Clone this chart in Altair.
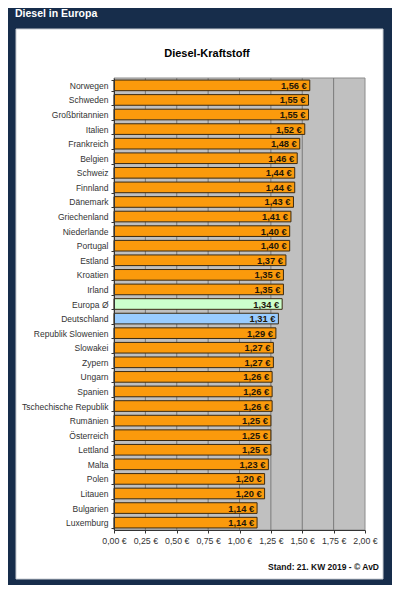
import altair as alt
import pandas as pd

countries = ["Norwegen", "Schweden", "Großbritannien", "Italien", "Frankreich", "Belgien",
             "Schweiz", "Finnland", "Dänemark", "Griechenland", "Niederlande", "Portugal",
             "Estland", "Kroatien", "Irland", "Europa Ø", "Deutschland", "Republik Slowenien",
             "Slowakei", "Zypern", "Ungarn", "Spanien", "Tschechische Republik", "Rumänien",
             "Österreich", "Lettland", "Malta", "Polen", "Litauen", "Bulgarien", "Luxemburg"]
prices = [1.56, 1.55, 1.55, 1.52, 1.48, 1.46, 1.44, 1.44, 1.43, 1.41, 1.40, 1.40,
          1.37, 1.35, 1.35, 1.34, 1.31, 1.29, 1.27, 1.27, 1.26, 1.26, 1.26, 1.25,
          1.25, 1.25, 1.23, 1.20, 1.20, 1.14, 1.14]
kinds = ["Land"] * 15 + ["Europa", "Deutschland"] + ["Land"] * 14
tick_values = [0, 0.25, 0.5, 0.75, 1.0, 1.25, 1.5, 1.75, 2.0]
grid_values = [0.25, 0.5, 0.75, 1.0, 1.25, 1.5, 1.75]

header = "Diesel in Europa"
title = "Diesel-Kraftstoff"
footer = "Stand: 21. KW 2019 - © AvD"

df = pd.DataFrame({"land": countries, "preis": prices, "typ": kinds})
df["label"] = [f"{p:.2f}".replace(".", ",") + " €" for p in prices]
grid_df = pd.DataFrame({"preis": grid_values})

W, H = 251, 452
PL, PT = 106, 70
FONT = "Liberation Sans"

xenc = alt.X("preis:Q",
             scale=alt.Scale(domain=[0, 2], nice=False, zero=True),
             axis=alt.Axis(title=None, values=tick_values, grid=False,
                           labelExpr="replace(format(datum.value, '.2f'), '.', ',') + ' €'",
                           labelFont=FONT, labelFontSize=8.8, labelColor="#333333",
                           labelPadding=3, tickSize=3, tickColor="#333333",
                           labelOverlap=False, labelFlush=False,
                           domainColor="#333333", zindex=2))
yenc = alt.Y("land:N", sort=countries,
             scale=alt.Scale(paddingInner=0.27, paddingOuter=0.14),
             axis=alt.Axis(title=None, grid=False, tickBand="extent", tickSize=3,
                           tickColor="#333333", domainColor="#333333",
                           labelFont=FONT, labelFontSize=8.5, labelColor="#333333",
                           labelPadding=3, labelOverlap=False, zindex=2))

one = pd.DataFrame({"t": [0]})

panel = alt.Chart(one).mark_rect(fill="#ffffff", stroke="#c8ccd2", strokeWidth=1).encode(
    x=alt.value(-98), x2=alt.value(269), y=alt.value(-49), y2=alt.value(501))

plotbg = alt.Chart(one).mark_rect(fill="#c0c0c0", stroke="#8c8c8c", strokeWidth=1).encode(
    x=alt.value(0), x2=alt.value(W), y=alt.value(0), y2=alt.value(H))

grid = alt.Chart(grid_df).mark_rule(color="#7a7a7a", strokeWidth=1).encode(x=xenc)

bars = alt.Chart(df).mark_bar(stroke="#3a2a12", strokeWidth=1).encode(
    x=xenc, y=yenc,
    color=alt.Color("typ:N", legend=None,
                    scale=alt.Scale(domain=["Land", "Europa", "Deutschland"],
                                    range=["#fb9a0c", "#ccffcc", "#99ccff"])))

labels = alt.Chart(df).mark_text(align="right", baseline="middle", dx=-3, dy=0.5,
                                 font=FONT, fontSize=9.3, fontWeight="bold",
                                 color="#1e1608").encode(
    x=xenc, y=yenc, text="label:N")

head = alt.Chart(pd.DataFrame({"t": [header]})).mark_text(
    align="left", baseline="alphabetic", font=FONT, fontSize=10.5, fontWeight="bold",
    color="#ffffff").encode(x=alt.value(-99), y=alt.value(-61), text="t:N")

ttl = alt.Chart(pd.DataFrame({"t": [title]})).mark_text(
    align="center", baseline="alphabetic", font=FONT, fontSize=11, fontWeight="bold",
    color="#000000").encode(x=alt.value(93), y=alt.value(-21), text="t:N")

foot = alt.Chart(pd.DataFrame({"t": [footer]})).mark_text(
    align="right", baseline="alphabetic", font=FONT, fontSize=8.5, fontWeight="bold",
    color="#111111").encode(x=alt.value(265), y=alt.value(492), text="t:N")

chart = alt.layer(panel, plotbg, grid, bars, labels, head, ttl, foot).properties(
    width=W, height=H,
    autosize=alt.AutoSizeParams(type="none"),
    padding={"left": PL, "top": PT, "right": 384 - PL - W, "bottom": 577 - PT - H},
    background="#172d4b",
).configure_view(stroke=None)

chart.save("out.html", embed_options={"renderer": "svg", "actions": False})
